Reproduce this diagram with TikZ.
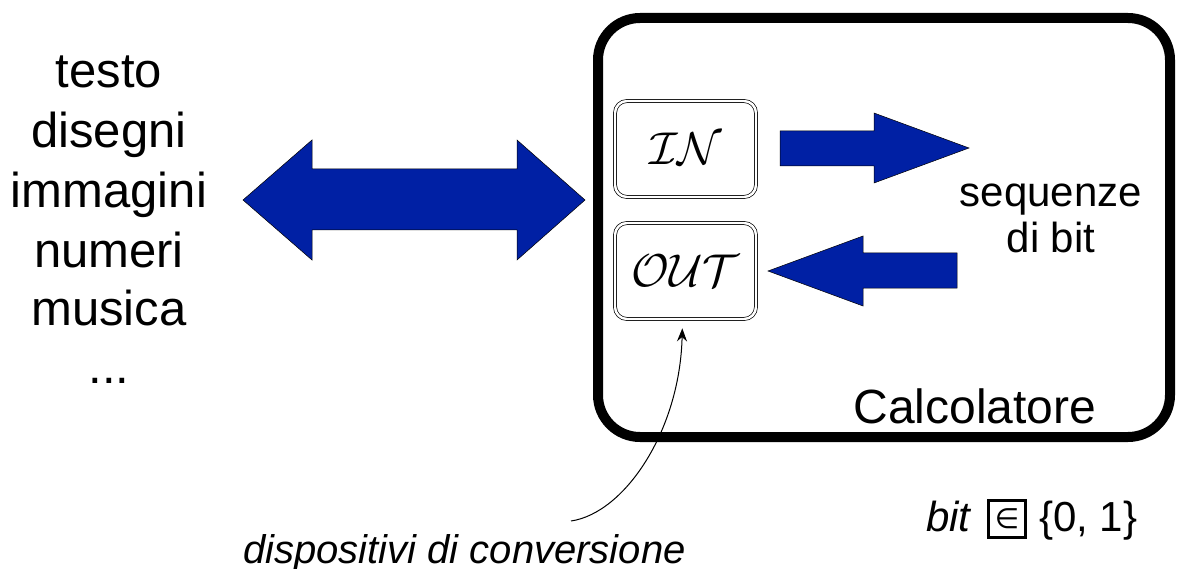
\documentclass[tikz,border=0pt]{standalone}
\usepackage{fontspec}
\setmainfont{Liberation Sans}
\newfontfamily\symfont{DejaVu Sans}
\usetikzlibrary{arrows.meta}
\definecolor{arrowblue}{RGB}{0,32,164}
\newcommand{\unitlabel}[1]{\scalebox{4.6}{$\mathcal{#1}$}}
\begin{document}
\begin{tikzpicture}[x=1pt,y=-1pt,
  fatarrow/.style={fill=arrowblue, draw=black, line width=0.5pt, line join=miter},
  unitbox/.style={draw, double, double distance=2.4pt, line width=0.7pt,
    rounded corners=12pt, minimum width=141pt, minimum height=96pt,
    inner sep=0pt},
  word/.style={inner sep=0pt, anchor=base},
  listword/.style={word, font=\fontsize{49}{59}\selectfont},
]
\useasboundingbox (0,0) rectangle (1177,569);

% the computer
\node[draw, line width=10pt, rounded corners=42pt, minimum width=572pt,
      minimum height=419pt, inner sep=0pt] (computer) at (884,227.5) {};
\node[word, font=\fontsize{48}{48}\selectfont] (computerlabel) at (975,423) {Calcolatore};

% kinds of information
\node[listword] (info1) at (109,88)  {testo};
\node[listword] (info2) at (109,148) {disegni};
\node[listword] (info3) at (109,208) {immagini};
\node[listword] (info4) at (109,267) {numeri};
\node[listword] (info5) at (109,325) {musica};
\node[listword] (info6) at (109,383) {...};

% exchange between the world and the computer
\draw[fatarrow] (243,200) -- (312,140) -- (312,169) -- (517,169) -- (517,140)
  -- (585,200) -- (517,260) -- (517,230) -- (312,230) -- (312,260) -- cycle;

% conversion devices
\node[unitbox] (in)  at (685.5,149) {\unitlabel{IN}};
\node[unitbox] (out) at (685.5,271) {\unitlabel{OUT}};

% bit streams
\node[word, font=\fontsize{42}{42}\selectfont] (seq1) at (1051,207) {sequenze};
\node[word, font=\fontsize{42}{42}\selectfont] (seq2) at (1051,252) {di bit};

\draw[fatarrow] (780,131) -- (874,131) -- (874,113) -- (969,148) -- (874,183)
  -- (874,166) -- (780,166) -- cycle;
\draw[fatarrow] (957,253) -- (863,253) -- (863,236) -- (768,271) -- (863,306)
  -- (863,288) -- (957,288) -- cycle;

% caption for the devices
\node[word, anchor=base west, font=\fontsize{40}{40}\selectfont\itshape]
  (devices) at (243,563) {dispositivi di conversione};
\coordinate (devstart) at (571,521);
\draw[line width=1pt, -{Stealth[length=13pt, width=10pt]}, shorten >=9pt]
  (devstart) .. controls (625,513) and (680,430) .. ([xshift=-3pt]out.south);

% definition of a bit
\node[word, anchor=base west, font=\fontsize{42}{42}\selectfont\itshape]
  (bitword) at (926,531) {bit};
\node[draw, line width=2.5pt, minimum size=37pt, inner sep=0pt,
      font=\fontsize{28}{28}\symfont] (elem) at (1007,519) {∈};
\node[word, anchor=base west, font=\fontsize{42}{42}\selectfont]
  (bitset) at (1039,531) {\{0, 1\}};
\end{tikzpicture}
\end{document}
